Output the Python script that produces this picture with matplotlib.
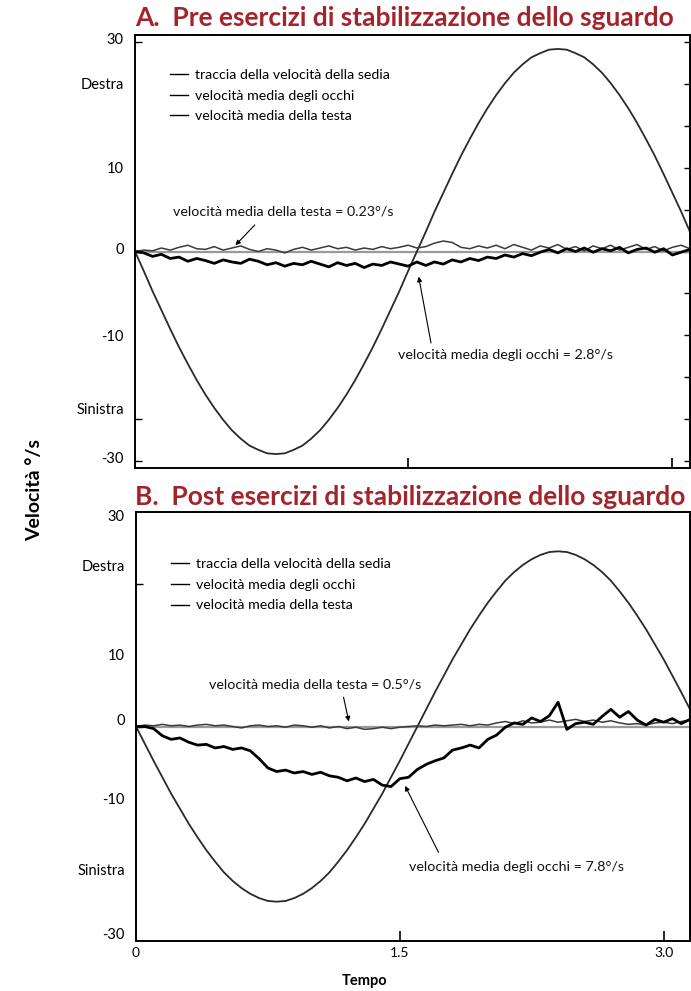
import numpy as np
import matplotlib
matplotlib.use("Agg")
import matplotlib.pyplot as plt
from matplotlib.lines import Line2D

plt.rcParams['font.family'] = ['Lato', 'DejaVu Sans']

# ---------------- data ----------------
TIME = np.round(np.arange(65) * 0.05, 2)   # s, sampling grid 0 .. 3.2

chair_A = [0, -2.8, -5.7, -8.4, -11.1, -13.7, -16.1, -18.4, -20.5, -22.4, -24.1, -25.6, -26.8, -27.8, -28.4, -28.9, -29.0,
           -28.9, -28.4, -27.8, -26.8, -25.6, -24.1, -22.4, -20.5, -18.4, -16.1, -13.7, -11.1, -8.4, -5.7, -2.8, 0.0,
           2.8, 5.7, 8.4, 11.1, 13.7, 16.1, 18.4, 20.5, 22.4, 24.1, 25.6, 26.8, 27.8, 28.4, 28.9, 29.0,
           28.9, 28.4, 27.8, 26.8, 25.6, 24.1, 22.4, 20.5, 18.4, 16.1, 13.7, 11.1, 8.4, 5.7, 2.8, 0.0]

eye_A = [0.0, -0.2, -0.7, -0.4, -1.0, -0.8, -1.4, -1.0, -1.3, -1.7, -1.2, -1.5, -1.7, -1.1, -1.4, -1.9, -1.6,
         -2.1, -1.7, -1.9, -1.4, -1.8, -2.2, -1.6, -2.0, -1.7, -2.3, -1.8, -2.0, -1.5, -1.8, -2.1, -1.5,
         -2.0, -1.5, -1.8, -1.2, -1.5, -1.0, -1.3, -0.8, -1.0, -0.5, -0.8, -0.3, -0.6, -0.1, 0.3, -0.2,
         0.4, 0.0, 0.5, -0.1, 0.4, 0.1, 0.6, -0.2, 0.3, 0.5, -0.1, 0.4, -0.5, -0.1, 0.3, -0.3]

head_A = [0.0, 0.2, 0.1, 0.5, 0.2, 0.6, 0.9, 0.4, 0.3, 0.7, 0.2, 0.5, 0.8, 0.3, 0.0, 0.4, 0.2,
          -0.2, 0.3, 0.6, 0.2, 0.5, 0.8, 0.4, 0.6, 0.2, 0.5, 0.3, 0.7, 0.4, 0.6, 0.9, 0.5,
          0.7, 1.2, 1.5, 1.3, 0.6, 0.4, 0.8, 0.5, 0.9, 0.4, 1.0, 0.6, 0.2, 0.8, 0.5, 1.0,
          0.3, 0.7, 0.1, 0.8, 0.4, 0.9, 0.2, 0.6, 1.0, 0.3, 0.7, 0.1, 0.6, 0.9, 0.4, 0.7]

chair_B = [0, -2.4, -4.8, -7.1, -9.4, -11.5, -13.6, -15.5, -17.3, -18.9, -20.4, -21.6, -22.6, -23.4, -24.0, -24.4, -24.5,
           -24.4, -24.0, -23.4, -22.6, -21.6, -20.4, -18.9, -17.3, -15.5, -13.6, -11.5, -9.4, -7.1, -4.8, -2.4, 0.0,
           2.4, 4.8, 7.1, 9.4, 11.5, 13.6, 15.5, 17.3, 18.9, 20.4, 21.6, 22.6, 23.4, 24.0, 24.4, 24.5,
           24.4, 24.0, 23.4, 22.6, 21.6, 20.4, 18.9, 17.3, 15.5, 13.6, 11.5, 9.4, 7.1, 4.8, 2.4, 0.0]

eye_B = [0.0, 0.0, -0.3, -1.3, -1.8, -1.6, -2.2, -2.6, -2.5, -3.0, -2.8, -3.2, -3.0, -3.4, -4.5, -5.8, -6.3,
         -6.1, -6.5, -6.3, -6.7, -6.4, -6.9, -7.1, -7.6, -7.2, -7.7, -7.4, -8.2, -8.4, -7.3, -7.1, -6.0,
         -5.3, -4.8, -4.4, -3.3, -3.0, -2.6, -3.0, -1.8, -1.2, -0.1, 0.5, 0.3, 1.2, 0.7, 1.5, 3.4,
         -0.4, 0.4, 0.6, 0.3, 1.4, 2.4, 1.3, 2.1, 0.9, 0.2, 1.0, 0.6, 1.1, 0.4, 1.0, -0.6]

head_B = [0.0, 0.2, 0.1, 0.3, 0.1, 0.2, 0.0, 0.2, 0.3, 0.1, 0.2, 0.0, -0.2, 0.1, 0.2, 0.0, 0.1,
          -0.1, 0.2, 0.1, -0.1, 0.1, -0.2, 0.0, -0.3, -0.1, -0.4, -0.3, -0.1, -0.3, -0.1, 0.0, 0.1,
          0.0, 0.2, 0.1, 0.2, 0.3, 0.1, 0.3, 0.2, 0.5, 0.7, 0.4, 0.8, 0.5, 0.6, 0.9, 0.6,
          0.8, 1.0, 0.7, 0.9, 0.6, 0.8, 0.5, 0.3, 0.4, 0.2, 0.5, 0.6, 0.4, 0.7, 0.9, 0.6]

LEGEND_LABELS = ["traccia della velocità della sedia",
                 "velocità media degli occhi",
                 "velocità media della testa"]

TITLES = ["A.  Pre esercizi di stabilizzazione dello sguardo",
          "B.  Post esercizi di stabilizzazione dello sguardo"]

A_YLABEL_POS = [30.5, 24, 12, 0.5, -12, -22.5, -29.5]
A_YLABELS = ["30", "Destra", "10", "0", "-10", "Sinistra", "-30"]
A_YTICK_MARKS = [30, 24, 12, 0, -12, -24, -30]
A_RIGHT_TICKS = [-30, -24, -18, -12, -6, 0, 6, 12, 18, 24, 30]

B_YLABEL_POS = [29.5, 22.5, 10, 1, -10, -20, -29]
B_YLABELS = ["30", "Destra", "10", "0", "-10", "Sinistra", "-30"]
B_YTICK_MARKS = [20, 10, 0, -10, -20]

A_XTICKS = [1.55, 3.05]
B_XTICKS = [0, 1.5, 3.0]
B_XTICKLABELS = ["0", "1.5", "3.0"]

ANNOT = {
    "A_head": ("velocità media della testa = 0.23°/s", (0.84, 5.7), (0.68, 3.8), (0.57, 0.9)),
    "A_eye": ("velocità media degli occhi = 2.8°/s", (1.49, -14.8), (1.68, -13.1), (1.61, -3.6)),
    "B_head": ("velocità media della testa = 0.5°/s", (1.02, 5.9), (1.18, 4.1), (1.21, 0.7)),
    "B_eye": ("velocità media degli occhi = 7.8°/s", (1.55, -19.6), (1.72, -17.6), (1.53, -8.3)),
}

# ---------------- figure ----------------
W, H = 691, 991
fig = plt.figure(figsize=(W / 100, H / 100), dpi=100)

def px_axes(l, t, r, b):
    return fig.add_axes([l / W, 1 - b / H, (r - l) / W, (b - t) / H])

axA = px_axes(135, 35, 690, 468)
axB = px_axes(136, 512, 690, 941)

TITLE_COLOR = "#A3242B"
XMAX = 3.15

def draw_panel(ax, chair, eye, head, ylim, ylabel_pos, ylabels, ymarks, xticks, xlabels,
               annots, legend_anchor):
    ax.set_xlim(0, XMAX)
    ax.set_ylim(*ylim)
    ax.axhline(0, color="#9a9a9a", lw=1.6, zorder=1)
    ax.plot(TIME, chair, color="#2a2a2a", lw=1.3, zorder=2)
    ax.plot(TIME, head, color="#3a3a3a", lw=1.1, zorder=3, solid_joinstyle="round")
    ax.plot(TIME, eye, color="black", lw=2.0, zorder=4, solid_joinstyle="round")

    for s in ax.spines.values():
        s.set_linewidth(1.4)

    # labels on major ticks (invisible marks), marks on minor ticks
    ax.set_yticks(ylabel_pos)
    ax.set_yticklabels(ylabels)
    ax.set_yticks(ymarks, minor=True)
    ax.tick_params(axis="y", which="major", length=0, pad=8, labelsize=10.5)
    ax.tick_params(axis="y", which="minor", direction="in", length=5, width=1)

    ax.set_xticks(xticks)
    if xlabels is None:
        ax.set_xticklabels([])
    else:
        ax.set_xticklabels(xlabels)
    ax.tick_params(axis="x", which="major", direction="in", length=7, width=1.2,
                   labelsize=10, pad=4)

    for key in annots:
        txt, tpos, tail, head_pt = ANNOT[key]
        ha = "center" if "head" in key else "left"
        ax.text(tpos[0], tpos[1], txt, ha=ha, va="center", fontsize=10.3, color="#111111")
        ax.annotate("", xy=head_pt, xytext=tail,
                    arrowprops=dict(arrowstyle="-|>", lw=0.8, color="black",
                                    mutation_scale=7, shrinkA=0, shrinkB=0))

    handles = [Line2D([0], [0], color="black", lw=1.0) for _ in LEGEND_LABELS]
    ax.legend(handles, LEGEND_LABELS, loc="upper left", bbox_to_anchor=legend_anchor,
              frameon=False, fontsize=10.2, handlelength=1.3, handletextpad=0.5,
              labelspacing=0.62, borderaxespad=0, borderpad=0)

draw_panel(axA, chair_A, eye_A, head_A, (-31, 31), A_YLABEL_POS, A_YLABELS, A_YTICK_MARKS,
           A_XTICKS, None, ["A_head", "A_eye"], (0.063, 0.922))
# right-side tick marks on panel A
axA_r = axA.secondary_yaxis("right")
axA_r.set_yticks(A_RIGHT_TICKS)
axA_r.set_yticklabels([])
axA_r.tick_params(direction="in", length=4, width=1)
axA_r.spines["right"].set_visible(False)

draw_panel(axB, chair_B, eye_B, head_B, (-30, 30), B_YLABEL_POS, B_YLABELS, B_YTICK_MARKS,
           B_XTICKS, B_XTICKLABELS, ["B_head", "B_eye"], (0.063, 0.893))

fig.text(135 / W, 1 - 18 / H, TITLES[0], ha="left", va="center", fontsize=19.0,
         fontweight="bold", color=TITLE_COLOR)
fig.text(135 / W, 1 - 497 / H, TITLES[1], ha="left", va="center", fontsize=19.0,
         fontweight="bold", color=TITLE_COLOR)

fig.text(35 / W, 1 - 490 / H, "Velocità °/s", rotation=90, ha="center", va="center",
         fontsize=14, fontweight="bold")
fig.text(365 / W, 1 - 981 / H, "Tempo", ha="center", va="center", fontsize=10.5,
         fontweight="bold")

fig.savefig("out.png", dpi=100)
